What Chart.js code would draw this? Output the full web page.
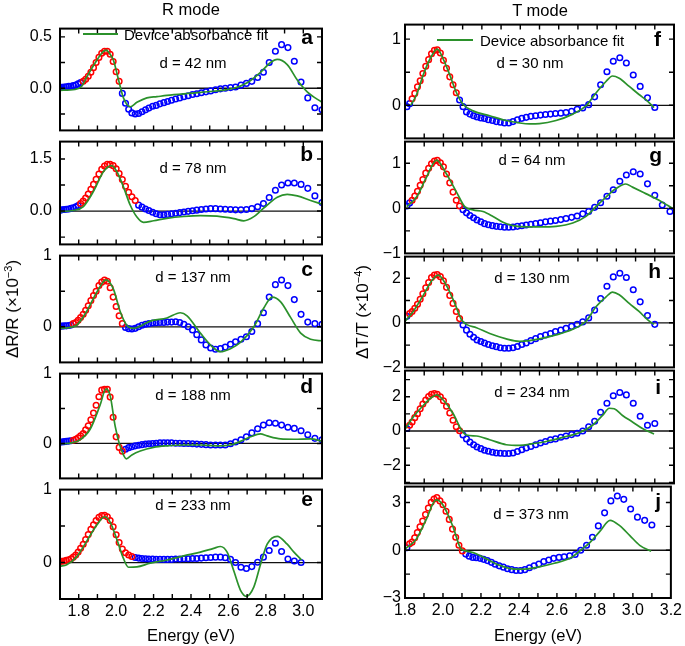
<!DOCTYPE html>
<html>
<head>
<meta charset="utf-8">
<script src="https://cdn.jsdelivr.net/npm/chart.js@4.4.0/dist/chart.umd.min.js"></script>
<style>
  body { margin: 0; width: 685px; height: 646px; position: relative; overflow: hidden; background: #fff;
         font-family: 'Liberation Sans', Arial, Helvetica, sans-serif; color: #000; }
  canvas { position: absolute; z-index: 1; }
  .t { position: absolute; z-index: 2; white-space: nowrap; line-height: 1; transform: translate(-50%, -50%); }
  .lt { position: absolute; z-index: 2; white-space: nowrap; line-height: 1; transform: translateY(-50%); }
  .let { position: absolute; z-index: 2; white-space: nowrap; line-height: 1; font-weight: bold; font-size: 21px; transform: translate(-100%, -50%); }
  .ytitle { position: absolute; z-index: 2; white-space: nowrap; line-height: 1; font-size: 17px; transform: translate(-50%, -50%) rotate(-90deg); }
  .ytitle sup { font-size: 11px; vertical-align: 6px; }
  .leg { position: absolute; z-index: 2; height: 2px; background: #2b912b; }
</style>
</head>
<body>

<div class="t" style="left:191px; top:9px; font-size:16.5px;">R mode</div>
<div class="t" style="left:540px; top:10px; font-size:16.5px;">T mode</div>

<div class="leg" style="left:83px; top:33px; width:35px;"></div>
<div class="lt" style="left:124px; top:34px; font-size:15px;">Device absorbance fit</div>
<div class="leg" style="left:437px; top:39px; width:36px;"></div>
<div class="lt" style="left:480px; top:40px; font-size:15px;">Device absorbance fit</div>

<div class="t" style="left:193px; top:62px; font-size:15px;">d = 42 nm</div>
<div class="t" style="left:193px; top:167px; font-size:15px;">d = 78 nm</div>
<div class="t" style="left:193px; top:276px; font-size:15px;">d = 137 nm</div>
<div class="t" style="left:193px; top:394px; font-size:15px;">d = 188 nm</div>
<div class="t" style="left:193px; top:504px; font-size:15px;">d = 233 nm</div>
<div class="t" style="left:530px; top:62px; font-size:15px;">d = 30 nm</div>
<div class="t" style="left:532px; top:159px; font-size:15px;">d = 64 nm</div>
<div class="t" style="left:532px; top:277px; font-size:15px;">d = 130 nm</div>
<div class="t" style="left:532px; top:391px; font-size:15px;">d = 234 nm</div>
<div class="t" style="left:531px; top:513px; font-size:15px;">d = 373 nm</div>

<div class="let" style="left:313px; top:36px;">a</div>
<div class="let" style="left:313px; top:153px;">b</div>
<div class="let" style="left:313px; top:268px;">c</div>
<div class="let" style="left:313px; top:385px;">d</div>
<div class="let" style="left:313px; top:498px;">e</div>
<div class="let" style="left:661px; top:38px;">f</div>
<div class="let" style="left:662px; top:154px;">g</div>
<div class="let" style="left:661px; top:270px;">h</div>
<div class="let" style="left:661px; top:386px;">i</div>
<div class="let" style="left:661px; top:500px;">j</div>

<div class="ytitle" style="left:12px; top:309px;">ΔR/R (×10<sup>−3</sup>)</div>
<div class="ytitle" style="left:362px; top:312px;">ΔT/T (×10<sup>−4</sup>)</div>

<script>
// Energy grids of the measured points (eV)
const energyR = [1.699, 1.710, 1.722, 1.734, 1.747, 1.759, 1.771, 1.784, 1.797, 1.810,
    1.824, 1.837, 1.851, 1.865, 1.879, 1.893, 1.908, 1.923, 1.938, 1.953,
    1.968, 1.984, 2.000, 2.016, 2.033, 2.050, 2.067, 2.084, 2.102, 2.120,
    2.138, 2.157, 2.175, 2.195, 2.214, 2.234, 2.255, 2.275, 2.296, 2.318,
    2.340, 2.362, 2.385, 2.408, 2.431, 2.455, 2.480, 2.505, 2.531, 2.557,
    2.583, 2.611, 2.638, 2.667, 2.696, 2.725, 2.756, 2.787, 2.818, 2.851,
    2.884, 2.918, 2.952, 2.988, 3.024, 3.062, 3.100];
const energyT = [1.810, 1.824, 1.837, 1.851, 1.865, 1.879, 1.893, 1.908, 1.923, 1.938,
    1.953, 1.968, 1.984, 2.000, 2.016, 2.033, 2.050, 2.067, 2.084, 2.102,
    2.120, 2.138, 2.157, 2.175, 2.195, 2.214, 2.234, 2.255, 2.275, 2.296,
    2.318, 2.340, 2.362, 2.385, 2.408, 2.431, 2.455, 2.480, 2.505, 2.531,
    2.557, 2.583, 2.611, 2.638, 2.667, 2.696, 2.725, 2.756, 2.787, 2.818,
    2.851, 2.884, 2.918, 2.952, 2.988, 3.024, 3.062, 3.100, 3.139, 3.179];

// R mode measured values (x10^-3); red* = index range drawn in red
const measA = [0.006, 0.009, 0.012, 0.015, 0.018, 0.02, 0.026, 0.032, 0.044, 0.055,
    0.067, 0.088, 0.117, 0.155, 0.2, 0.25, 0.30, 0.34, 0.36, 0.36,
    0.33, 0.26, 0.16, 0.067, -0.05, -0.146, -0.205, -0.24, -0.25, -0.245,
    -0.228, -0.21, -0.193, -0.175, -0.167, -0.152, -0.14, -0.129, -0.117, -0.105,
    -0.094, -0.082, -0.073, -0.061, -0.053, -0.044, -0.035, -0.026, -0.015, -0.006,
    0, 0.006, 0.012, 0.03, 0.047, 0.067, 0.105, 0.155, 0.25, 0.36,
    0.424, 0.395, 0.263, 0.061, -0.094, -0.19, -0.21];
const redA = [10, 23];
const measB = [0.026, 0.035, 0.044, 0.052, 0.061, 0.078, 0.096, 0.122, 0.157, 0.218,
    0.288, 0.375, 0.488, 0.628, 0.767, 0.915, 1.064, 1.203, 1.299, 1.343,
    1.343, 1.308, 1.22, 1.08, 0.907, 0.715, 0.54, 0.41, 0.305, 0.17,
    0.113, 0.061, 0.017, -0.035, -0.078, -0.105, -0.105, -0.096, -0.078, -0.061,
    -0.044, -0.026, -0.009, 0.009, 0.026, 0.044, 0.061, 0.07, 0.07, 0.061,
    0.052, 0.044, 0.035, 0.035, 0.044, 0.07, 0.122, 0.218, 0.392, 0.60,
    0.75, 0.81, 0.81, 0.767, 0.654, 0.436, 0.244];
const redB = [9, 28];
const measC = [0.009, 0.009, 0.013, 0.013, 0.018, 0.026, 0.044, 0.061, 0.092, 0.13,
    0.175, 0.232, 0.294, 0.368, 0.44, 0.50, 0.58, 0.627, 0.658, 0.64,
    0.548, 0.417, 0.285, 0.154, 0.044, -0.009, -0.026, -0.031, -0.022, 0,
    0.022, 0.035, 0.044, 0.053, 0.057, 0.061, 0.061, 0.066, 0.066, 0.07,
    0.061, 0.035, 0, -0.044, -0.11, -0.184, -0.254, -0.298, -0.316, -0.307,
    -0.285, -0.246, -0.21, -0.175, -0.14, -0.066, 0.044, 0.197, 0.417, 0.592,
    0.658, 0.579, 0.382, 0.175, 0.066, 0.044, 0.035];
const redC = [6, 24];
const measD = [0.022, 0.022, 0.026, 0.03, 0.034, 0.039, 0.047, 0.06, 0.082, 0.108,
    0.142, 0.194, 0.254, 0.34, 0.435, 0.547, 0.668, 0.763, 0.776, 0.776,
    0.664, 0.375, 0.095, -0.056, -0.112, -0.082, -0.06, -0.047, -0.034, -0.026,
    -0.017, -0.009, -0.004, 0, 0.004, 0.009, 0.009, 0.009, 0.009, 0.004,
    0.004, 0, 0, -0.004, -0.009, -0.013, -0.017, -0.022, -0.022, -0.022,
    -0.022, -0.004, 0.022, 0.052, 0.095, 0.151, 0.211, 0.263, 0.297, 0.289,
    0.263, 0.233, 0.216, 0.181, 0.125, 0.073, 0.052];
const redD = [6, 24];
const measE = [0.013, 0.017, 0.022, 0.03, 0.039, 0.052, 0.074, 0.104, 0.143, 0.195,
    0.251, 0.316, 0.385, 0.455, 0.519, 0.576, 0.619, 0.645, 0.649, 0.628,
    0.576, 0.489, 0.381, 0.273, 0.186, 0.134, 0.104, 0.082, 0.069, 0.061,
    0.056, 0.052, 0.048, 0.048, 0.043, 0.043, 0.043, 0.043, 0.043, 0.048,
    0.048, 0.052, 0.052, 0.056, 0.056, 0.061, 0.065, 0.069, 0.074, 0.074,
    0.065, 0.043, 0, -0.065, -0.082, -0.056, 0.004, 0.074, 0.165, 0.264,
    0.152, 0.048, 0.022, 0];
const redE = [0, 27];

// T mode measured values (x10^-4)
const measF = [-0.02, 0.025, 0.1, 0.18, 0.28, 0.37, 0.48, 0.59, 0.69, 0.78,
    0.83, 0.84, 0.79, 0.68, 0.56, 0.43, 0.31, 0.19, 0.08, -0.02,
    -0.1, -0.133, -0.158, -0.177, -0.19, -0.2, -0.217, -0.23, -0.246, -0.256,
    -0.266, -0.266, -0.246, -0.217, -0.197, -0.182, -0.167, -0.158, -0.148, -0.138,
    -0.133, -0.123, -0.118, -0.108, -0.089, -0.059, -0.039, 0.01, 0.128, 0.31,
    0.507, 0.665, 0.72, 0.64, 0.458, 0.286, 0.113, -0.034];
const redF = [2, 17];
const measG = [0.05, 0.12, 0.18, 0.27, 0.38, 0.51, 0.64, 0.78, 0.89, 0.99,
    1.05, 1.065, 1.01, 0.92, 0.76, 0.565, 0.36, 0.18, 0.05, -0.03,
    -0.1, -0.16, -0.21, -0.26, -0.3, -0.34, -0.365, -0.384, -0.4, -0.41,
    -0.42, -0.42, -0.413, -0.4, -0.385, -0.37, -0.355, -0.34, -0.32, -0.3,
    -0.285, -0.27, -0.25, -0.225, -0.2, -0.17, -0.123, -0.072, 0.022, 0.123,
    0.268, 0.413, 0.6, 0.74, 0.81, 0.76, 0.543, 0.29, 0.072, -0.072];
const redG = [2, 18];
const measH = [0.29, 0.41, 0.51, 0.65, 0.83, 1.06, 1.3, 1.57, 1.81, 2.03,
    2.14, 2.16, 2.07, 1.88, 1.59, 1.23, 0.87, 0.51, 0.19, -0.1,
    -0.33, -0.51, -0.65, -0.77, -0.84, -0.91, -0.97, -1.03, -1.07, -1.12,
    -1.14, -1.14, -1.12, -1.06, -0.97, -0.9, -0.8, -0.71, -0.62, -0.55,
    -0.48, -0.39, -0.33, -0.25, -0.16, -0.07, 0.04, 0.22, 0.57, 1.09,
    1.64, 2.06, 2.22, 2.03, 1.48, 0.94, 0.33, -0.07];
const redH = [1, 18];
const measI = [0.15, 0.34, 0.53, 0.78, 1.01, 1.3, 1.58, 1.81, 2.02, 2.15,
    2.19, 2.15, 2.0, 1.77, 1.45, 1.05, 0.63, 0.25, 0.02, -0.23,
    -0.46, -0.65, -0.8, -0.93, -1.03, -1.12, -1.18, -1.24, -1.28, -1.3,
    -1.31, -1.31, -1.28, -1.2, -1.09, -0.99, -0.9, -0.8, -0.7, -0.61,
    -0.51, -0.46, -0.36, -0.29, -0.21, -0.13, 0, 0.25, 0.57, 1.1,
    1.62, 2.06, 2.25, 2.11, 1.62, 0.86, 0.34, 0.44];
const redI = [1, 18];
const measJ = [0.16, 0.41, 0.51, 0.78, 1.12, 1.47, 1.84, 2.24, 2.65, 3.02,
    3.22, 3.31, 3.1, 2.86, 2.45, 1.94, 1.33, 0.82, 0.31, -0.04,
    -0.24, -0.37, -0.45, -0.47, -0.51, -0.57, -0.65, -0.76, -0.88, -0.98,
    -1.06, -1.16, -1.22, -1.27, -1.27, -1.22, -1.1, -0.98, -0.86, -0.71,
    -0.61, -0.51, -0.45, -0.41, -0.35, -0.27, 0, 0.31, 0.82, 1.53,
    2.35, 3.1, 3.41, 3.2, 2.59, 2.08, 1.88, 1.59];
const redJ = [1, 19];

// Device absorbance fit curves (energy, value)
const fitAE = [1.70, 1.78, 1.816, 1.843, 1.896, 1.923, 1.946, 1.968, 1.986, 2.013, 2.039, 2.075, 2.111, 2.164, 2.218, 2.271, 2.45, 2.629, 2.7, 2.771, 2.825, 2.861, 2.914, 2.968, 3.021, 3.10];
const fitAY = [-0.02, -0.012, 0.02, 0.11, 0.27, 0.34, 0.37, 0.33, 0.27, 0.08, -0.094, -0.18, -0.137, -0.094, -0.082, -0.07, -0.04, 0, 0.053, 0.155, 0.25, 0.28, 0.23, 0.08, -0.035, -0.137];
const fitBE = [1.70, 1.771, 1.825, 1.879, 1.932, 1.977, 2.004, 2.039, 2.075, 2.111, 2.146, 2.2, 2.271, 2.361, 2.45, 2.539, 2.629, 2.682, 2.736, 2.771, 2.807, 2.861, 2.914, 2.968, 3.039, 3.104];
const fitBY = [-0.017, 0.017, 0.13, 0.567, 1.133, 1.308, 1.133, 0.698, 0.174, -0.174, -0.323, -0.28, -0.21, -0.157, -0.131, -0.148, -0.218, -0.28, -0.16, 0, 0.174, 0.4, 0.48, 0.436, 0.305, 0.19];
const fitCE = [1.70, 1.754, 1.789, 1.843, 1.896, 1.946, 1.986, 2.021, 2.057, 2.093, 2.129, 2.182, 2.271, 2.343, 2.379, 2.45, 2.521, 2.557, 2.611, 2.664, 2.736, 2.789, 2.834, 2.879, 2.932, 2.986, 3.039, 3.104];
const fitCY = [-0.022, -0.009, 0.022, 0.219, 0.482, 0.658, 0.526, 0.219, 0.022, -0.022, 0.009, 0.079, 0.123, 0.197, 0.154, -0.088, -0.298, -0.35, -0.307, -0.219, 0, 0.263, 0.417, 0.351, 0.132, -0.088, -0.175, -0.197];
const fitDE = [1.70, 1.763, 1.807, 1.861, 1.914, 1.946, 1.968, 1.995, 2.018, 2.039, 2.054, 2.084, 2.129, 2.2, 2.271, 2.361, 2.45, 2.539, 2.611, 2.664, 2.718, 2.771, 2.807, 2.879, 2.95, 3.039, 3.104];
const fitDY = [-0.004, 0.009, 0.052, 0.203, 0.547, 0.78, 0.685, 0.245, -0.013, -0.164, -0.22, -0.164, -0.108, -0.056, -0.034, -0.022, -0.022, -0.034, -0.022, 0.03, 0.095, 0.138, 0.108, 0.065, 0.06, 0.065, 0.03];
const fitEE = [1.70, 1.736, 1.789, 1.843, 1.896, 1.938, 1.968, 2.004, 2.039, 2.066, 2.111, 2.182, 2.271, 2.361, 2.45, 2.521, 2.557, 2.593, 2.629, 2.664, 2.696, 2.736, 2.771, 2.807, 2.861, 2.914, 2.95, 2.991];
const fitEY = [-0.052, -0.03, 0.078, 0.294, 0.511, 0.628, 0.554, 0.316, 0.056, -0.065, -0.06, -0.009, 0.035, 0.091, 0.143, 0.195, 0.22, 0.143, -0.117, -0.377, -0.463, -0.333, -0.03, 0.251, 0.359, 0.251, 0.143, 0.035];
const fitFE = [1.83, 1.860, 1.895, 1.930, 1.968, 1.999, 2.033, 2.068, 2.102, 2.154, 2.241, 2.327, 2.396, 2.448, 2.5, 2.586, 2.673, 2.742, 2.794, 2.846, 2.880, 2.915, 2.967, 3.018, 3.062, 3.096];
const fitFY = [0, 0.16, 0.46, 0.70, 0.85, 0.70, 0.46, 0.19, 0.015, -0.084, -0.158, -0.23, -0.266, -0.28, -0.276, -0.23, -0.133, -0.01, 0.187, 0.36, 0.443, 0.41, 0.286, 0.163, 0.064, -0.034];
const fitGE = [1.809, 1.860, 1.912, 1.964, 2.016, 2.068, 2.111, 2.154, 2.206, 2.258, 2.310, 2.362, 2.431, 2.5, 2.586, 2.673, 2.742, 2.794, 2.846, 2.897, 2.949, 2.984, 3.053, 3.122, 3.191];
const fitGY = [0.036, 0.25, 0.69, 1.07, 0.76, 0.36, 0.036, -0.036, -0.072, -0.18, -0.31, -0.384, -0.413, -0.413, -0.4, -0.326, -0.18, 0.036, 0.25, 0.435, 0.54, 0.47, 0.326, 0.18, 0];
const fitHE = [1.803, 1.843, 1.895, 1.938, 1.973, 2.016, 2.059, 2.094, 2.120, 2.172, 2.241, 2.327, 2.396, 2.448, 2.5, 2.586, 2.673, 2.742, 2.794, 2.846, 2.880, 2.915, 2.967, 3.018, 3.062, 3.096];
const fitHY = [0.1, 0.51, 1.23, 1.88, 2.14, 1.67, 0.87, 0.14, -0.07, -0.22, -0.48, -0.72, -0.83, -0.8, -0.72, -0.54, -0.29, 0.07, 0.72, 1.16, 1.38, 1.26, 0.87, 0.51, 0.14, -0.07];
const fitIE = [1.803, 1.843, 1.895, 1.938, 1.964, 1.999, 2.051, 2.094, 2.120, 2.172, 2.241, 2.327, 2.396, 2.465, 2.535, 2.638, 2.707, 2.776, 2.828, 2.863, 2.889, 2.932, 2.984, 3.036, 3.096];
const fitIY = [0.15, 0.82, 1.49, 1.96, 2.11, 1.81, 1.01, 0.06, -0.23, -0.29, -0.51, -0.8, -0.84, -0.74, -0.61, -0.32, -0.1, 0.34, 0.91, 1.33, 1.3, 0.91, 0.53, 0.15, -0.17];
const fitJE = [1.803, 1.860, 1.912, 1.964, 1.999, 2.051, 2.094, 2.120, 2.172, 2.223, 2.293, 2.379, 2.431, 2.5, 2.586, 2.673, 2.725, 2.776, 2.828, 2.880, 2.932, 2.984, 3.036, 3.096];
const fitJY = [0.1, 0.71, 1.94, 3.16, 2.86, 1.53, 0.1, -0.04, -0.2, -0.51, -0.92, -1.18, -1.18, -1.06, -0.82, -0.47, 0, 0.51, 1.22, 1.88, 1.53, 0.92, 0.31, -0.06];

// Tick values and tick labels
const xTickR = [1.8, 1.9, 2.0, 2.1, 2.2, 2.3, 2.4, 2.5, 2.6, 2.7, 2.8, 2.9, 3.0];
const xTextR = ['1.8', '', '2.0', '', '2.2', '', '2.4', '', '2.6', '', '2.8', '', '3.0'];
const xTickT = [1.8, 1.9, 2.0, 2.1, 2.2, 2.3, 2.4, 2.5, 2.6, 2.7, 2.8, 2.9, 3.0, 3.1, 3.2];
const xTextT = ['1.8', '', '2.0', '', '2.2', '', '2.4', '', '2.6', '', '2.8', '', '3.0', '', '3.2'];
const yTickA = [-0.25, 0, 0.25, 0.5];  const yTextA = ['', '0.0', '', '0.5'];
const yTickB = [-0.75, 0, 0.75, 1.5];  const yTextB = ['', '0.0', '', '1.5'];
const yTickC = [-0.5, 0, 0.5, 1];      const yTextC = ['', '0', '', '1'];
const yTickF = [0, 0.5, 1];            const yTextF = ['0', '', '1'];
const yTickG = [-1, -0.5, 0, 0.5, 1];  const yTextG = ['−1', '', '0', '', '1'];
const yTickH = [-2, -1, 0, 1, 2];      const yTextH = ['−2', '', '0', '', '2'];
const yTickI = [-3, -2, -1, 0, 1, 2, 3]; const yTextI = ['', '−2', '', '0', '', '2', ''];
const yTickJ = [-3, -1.5, 0, 1.5, 3];  const yTextJ = ['−3', '', '0', '', '3'];

const GREEN = '#2b912b';
const RED = '#ff0000';
const BLUE = '#0000ff';
const FONT = "'Liberation Sans', Arial, Helvetica, sans-serif";

Chart.defaults.font.family = FONT;
Chart.defaults.color = '#000';

// Column layouts (page pixels)
const colR = { canvasLeft: 0, canvasWidth: 338, rightPad: 16, xMin: 1.7, xMax: 3.1, energy: energyR, xTick: xTickR, xText: xTextR, labelPad: 8 };
const colT = { canvasLeft: 345, canvasWidth: 340, rightPad: 11, xMin: 1.8, xMax: 3.2, energy: energyT, xTick: xTickT, xText: xTextT, labelPad: 4 };

const panels = [
    { col: colR, top: 23,  bottom: 136, min: -0.41, max: 0.58, meas: measA, red: redA, fitE: fitAE, fitY: fitAY, yTick: yTickA, yText: yTextA },
    { col: colR, top: 136, bottom: 250, min: -0.96, max: 2.0,  meas: measB, red: redB, fitE: fitBE, fitY: fitBY, yTick: yTickB, yText: yTextB },
    { col: colR, top: 250, bottom: 368, min: -0.5,  max: 1.0,  meas: measC, red: redC, fitE: fitCE, fitY: fitCY, yTick: yTickC, yText: yTextC },
    { col: colR, top: 368, bottom: 484, min: -0.5,  max: 1.0,  meas: measD, red: redD, fitE: fitDE, fitY: fitDY, yTick: yTickC, yText: yTextC },
    { col: colR, top: 484, bottom: 599, min: -0.5,  max: 1.0,  meas: measE, red: redE, fitE: fitEE, fitY: fitEY, yTick: yTickC, yText: yTextC, last: true },
    { col: colT, top: 23,  bottom: 140, min: -0.5,  max: 1.22, meas: measF, red: redF, fitE: fitFE, fitY: fitFY, yTick: yTickF, yText: yTextF },
    { col: colT, top: 140, bottom: 255, min: -1.0,  max: 1.48, meas: measG, red: redG, fitE: fitGE, fitY: fitGY, yTick: yTickG, yText: yTextG },
    { col: colT, top: 255, bottom: 369, min: -2.0,  max: 2.97, meas: measH, red: redH, fitE: fitHE, fitY: fitHY, yTick: yTickH, yText: yTextH },
    { col: colT, top: 369, bottom: 485, min: -3.06, max: 3.53, meas: measI, red: redI, fitE: fitIE, fitY: fitIY, yTick: yTickI, yText: yTextI },
    { col: colT, top: 485, bottom: 598, min: -3.0,  max: 4.0,  meas: measJ, red: redJ, fitE: fitJE, fitY: fitJY, yTick: yTickJ, yText: yTextJ, last: true }
];

// Zero line, box and inward ticks
const framePlugin = {
    id: 'frame',
    beforeDatasetsDraw: function(chart) {
        var ctx = chart.ctx, a = chart.chartArea;
        var y0 = chart.scales.y.getPixelForValue(0);
        ctx.save();
        ctx.strokeStyle = '#111';
        ctx.lineWidth = 1.3;
        ctx.beginPath();
        ctx.moveTo(a.left, y0);
        ctx.lineTo(a.right, y0);
        ctx.stroke();
        ctx.restore();
    },
    afterDatasetsDraw: function(chart) {
        var ctx = chart.ctx, a = chart.chartArea;
        var xs = chart.scales.x, ys = chart.scales.y;
        ctx.save();
        ctx.strokeStyle = '#000';
        ctx.lineWidth = 1.4;
        ctx.beginPath();
        xs.ticks.forEach(function(t) {
            var px = xs.getPixelForValue(t.value);
            if (px <= a.left + 1 || px >= a.right - 1) return;
            ctx.moveTo(px, a.bottom); ctx.lineTo(px, a.bottom - 5);
            ctx.moveTo(px, a.top); ctx.lineTo(px, a.top + 5);
        });
        ys.ticks.forEach(function(t) {
            var py = ys.getPixelForValue(t.value);
            if (py <= a.top + 1 || py >= a.bottom - 1) return;
            ctx.moveTo(a.left, py); ctx.lineTo(a.left + 5, py);
            ctx.moveTo(a.right, py); ctx.lineTo(a.right - 5, py);
        });
        ctx.stroke();
        ctx.lineWidth = 2;
        ctx.strokeRect(a.left, a.top, a.right - a.left, a.bottom - a.top);
        ctx.restore();
    }
};

function makePanel(p) {
    var col = p.col;
    var xH = p.last ? 646 - p.bottom : 0;
    var cv = document.createElement('canvas');
    cv.width = col.canvasWidth;
    cv.height = (p.bottom - p.top) + 12 + (p.last ? xH : 12);
    cv.style.left = col.canvasLeft + 'px';
    cv.style.top = (p.top - 12) + 'px';
    document.body.appendChild(cv);

    var pts = p.meas.map(function(v, i) { return { x: col.energy[i], y: v }; });
    var redPts = pts.filter(function(q, i) { return i >= p.red[0] && i <= p.red[1]; });
    var bluePts = pts.filter(function(q, i) { return i < p.red[0] || i > p.red[1]; });
    var fitPts = p.fitE.map(function(e, i) { return { x: e, y: p.fitY[i] }; });

    new Chart(cv, {
        type: 'scatter',
        data: {
            datasets: [
                {
                    data: fitPts,
                    showLine: true,
                    borderColor: GREEN,
                    borderWidth: 1.7,
                    pointRadius: 0,
                    cubicInterpolationMode: 'monotone',
                    fill: false
                },
                {
                    data: redPts,
                    pointRadius: 2.8,
                    borderWidth: 1.5,
                    borderColor: RED,
                    backgroundColor: 'rgba(0,0,0,0)'
                },
                {
                    data: bluePts,
                    pointRadius: 2.8,
                    borderWidth: 1.5,
                    borderColor: BLUE,
                    backgroundColor: 'rgba(0,0,0,0)'
                }
            ]
        },
        options: {
            responsive: false,
            animation: false,
            devicePixelRatio: 1,
            events: [],
            layout: { padding: { top: 12, bottom: p.last ? 0 : 12, left: 0, right: col.rightPad } },
            plugins: { legend: { display: false }, tooltip: { enabled: false } },
            scales: {
                x: {
                    type: 'linear',
                    min: col.xMin,
                    max: col.xMax,
                    afterBuildTicks: function(s) { s.ticks = col.xTick.map(function(v) { return { value: v }; }); },
                    afterFit: function(s) { s.height = xH; },
                    grid: { display: false, drawTicks: false },
                    border: { display: false },
                    ticks: {
                        display: !!p.last,
                        autoSkip: false,
                        maxRotation: 0,
                        padding: 3,
                        font: { size: 16 },
                        color: '#000',
                        callback: function(v, i) { return col.xText[i]; }
                    },
                    title: {
                        display: !!p.last,
                        text: 'Energy (eV)',
                        font: { size: 16.5 },
                        color: '#000',
                        padding: { top: 0, bottom: 0 }
                    }
                },
                y: {
                    type: 'linear',
                    min: p.min,
                    max: p.max,
                    afterBuildTicks: function(s) { s.ticks = p.yTick.map(function(v) { return { value: v }; }); },
                    afterFit: function(s) { s.width = 60; },
                    grid: { display: false, drawTicks: false },
                    border: { display: false },
                    ticks: {
                        autoSkip: false,
                        padding: col.labelPad,
                        font: { size: 16 },
                        color: '#000',
                        callback: function(v, i) { return p.yText[i]; }
                    }
                }
            }
        },
        plugins: [framePlugin]
    });
}

panels.forEach(makePanel);
</script>
</body>
</html>
